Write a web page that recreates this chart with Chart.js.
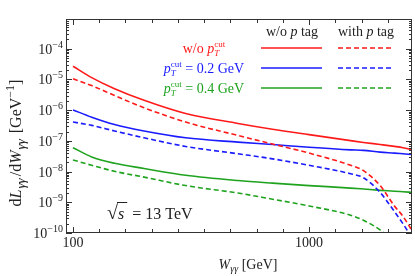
<!DOCTYPE html>
<html>
<head>
<meta charset="utf-8">
<script src="https://cdn.jsdelivr.net/npm/chart.js@4.4.1/dist/chart.umd.min.js"></script>
<style>
  html, body { margin: 0; padding: 0; background: #fff; }
  #wrap { width: 415px; height: 276px; }
</style>
</head>
<body>
<div id="wrap"><canvas id="lumiChart" width="415" height="276"></canvas></div>
<script>
// photon-photon luminosity, values
const W = [100, 120, 150, 200, 300, 500, 700, 1000, 1500, 1700, 2000, 2300, 2500, 2730];

const noCutNoTag   = [2.7e-5, 1.15e-5, 5.0e-6, 2.1e-6, 7.8e-7, 3.7e-7, 2.4e-7, 1.6e-7, 1.02e-7, 8.9e-8, 7.6e-8, 6.6e-8, 6.0e-8, 5.2e-8];
const noCutTag     = [1.05e-5, 6.3e-6, 3.0e-6, 1.2e-6, 4.1e-7, 1.5e-7, 7.9e-8, 4.0e-8, 1.6e-8, 1.07e-8, 3.5e-9, 7.6e-10, 3.5e-10, 1.2e-10];
const cut02NoTag   = [1.02e-6, 5.9e-7, 3.4e-7, 2.1e-7, 1.26e-7, 9.1e-8, 7.6e-8, 6.2e-8, 5.1e-8, 4.9e-8, 4.3e-8, 4.0e-8, 3.8e-8, 3.6e-8];
const cut02Tag     = [4.1e-7, 3.2e-7, 2.1e-7, 1.26e-7, 6.6e-8, 3.8e-8, 2.6e-8, 1.6e-8, 8.5e-9, 6.3e-9, 2.1e-9, 5.0e-10, 2.0e-10, 7e-11];
const cut04NoTag   = [6.0e-8, 3.0e-8, 1.86e-8, 1.26e-8, 7.6e-9, 5.1e-9, 4.2e-9, 3.5e-9, 2.9e-9, 2.7e-9, 2.45e-9, 2.3e-9, 2.2e-9, 2.1e-9];
const cut04Tag     = [2.4e-8, 1.6e-8, 1.02e-8, 6.6e-9, 3.5e-9, 2.0e-9, 1.26e-9, 7.6e-10, 3.8e-10, 2.6e-10, 1.26e-10, 5e-11, null, null];

const xTickValues = [100, 1000];
const xTickLabels = ['100', '1000'];
const yDecades = [-10, -9, -8, -7, -6, -5, -4];

const RED = '#ff1a1a', BLUE = '#1a1aff', GREEN = '#1fa31f';
const SERIF = '"Liberation Serif", "DejaVu Serif", serif';
const font = (size, italic) => (italic ? 'italic ' : '') + size + 'px ' + SERIF;

const toPoints = arr => W.map((w, i) => ({ x: w, y: arr[i] })).filter(p => p.y !== null);

function line(label, arr, color, dashed) {
  return {
    label: label,
    data: toPoints(arr),
    borderColor: color,
    borderWidth: 1.6,
    borderDash: dashed ? [5, 3] : [],
    pointRadius: 0,
    cubicInterpolationMode: 'monotone',
    fill: false
  };
}

// draw a run of text pieces (sub/superscripts, italics) starting at x
function drawRich(ctx, parts, x, y, align) {
  const widths = parts.map(p => {
    ctx.font = p.f;
    if (p.sup !== undefined) {
      return Math.max(ctx.measureText(p.sup).width, ctx.measureText(p.sub).width);
    }
    return ctx.measureText(p.t).width + (p.pad || 0);
  });
  const total = widths.reduce((a, b) => a + b, 0);
  let cx = align === 'right' ? x - total : align === 'center' ? x - total / 2 : x;
  parts.forEach((p, i) => {
    ctx.font = p.f;
    if (p.sup !== undefined) {
      ctx.fillText(p.sup, cx, y - 6);
      ctx.font = p.fsub || p.f;
      ctx.fillText(p.sub, cx, y + 3);
    } else {
      ctx.fillText(p.t, cx, y + (p.dy || 0));
    }
    cx += widths[i];
  });
  return total;
}

const framePlugin = {
  id: 'frame',
  afterDatasetsDraw(chart) {
    const ctx = chart.ctx, ca = chart.chartArea;
    const xs = chart.scales.x, ys = chart.scales.y;
    ctx.save();
    ctx.strokeStyle = '#333';
    ctx.lineWidth = 1;
    ctx.setLineDash([]);
    ctx.strokeRect(Math.round(ca.left) + 0.5, Math.round(ca.top) + 0.5,
      Math.round(ca.right - ca.left) - 1, Math.round(ca.bottom - ca.top) - 1);

    ctx.beginPath();
    // x ticks every ninth of a decade, inside on top and bottom
    for (let k = 0; k < 14; k++) {
      const v = Math.pow(10, 2 + k / 9);
      if (v > xs.max) break;
      const px = Math.round(xs.getPixelForValue(v)) + 0.5;
      const len = k % 9 === 0 ? 6 : 4;
      ctx.moveTo(px, ca.bottom); ctx.lineTo(px, ca.bottom - len);
      ctx.moveTo(px, ca.top); ctx.lineTo(px, ca.top + len);
    }
    // y ticks, decades and 2..9
    for (const e of yDecades.concat([-3])) {
      for (let m = 1; m <= 9; m++) {
        const v = m * Math.pow(10, e);
        if (v < ys.min * 0.999 || v > ys.max) continue;
        const py = Math.round(ys.getPixelForValue(v)) + 0.5;
        const len = m === 1 ? 6 : 3;
        ctx.moveTo(ca.left, py); ctx.lineTo(ca.left + len, py);
        ctx.moveTo(ca.right, py); ctx.lineTo(ca.right - len, py);
      }
    }
    ctx.stroke();

    ctx.fillStyle = '#222';
    ctx.textBaseline = 'alphabetic';
    // x tick labels
    xTickValues.forEach((v, i) => {
      drawRich(ctx, [{ t: xTickLabels[i], f: font(14) }], xs.getPixelForValue(v), 247, 'center');
    });
    // y tick labels 10^-n
    yDecades.forEach(e => {
      const py = ys.getPixelForValue(Math.pow(10, e));
      drawRich(ctx, [
        { t: '10', f: font(14) },
        { t: '\u2212' + Math.abs(e), f: font(10), dy: -6 }
      ], 63, py + 5, 'right');
    });

    // axis titles
    drawRich(ctx, [
      { t: 'W', f: font(14, true) },
      { t: '\u03b3\u03b3', f: font(10, true), dy: 3 },
      { t: ' [GeV]', f: font(14) }
    ], 248, 269, 'center');

    ctx.save();
    ctx.translate(21, 143);
    ctx.rotate(-Math.PI / 2);
    drawRich(ctx, [
      { t: 'd', f: font(16) },
      { t: 'L', f: font(16, true), pad: 1 },
      { t: '\u03b3\u03b3', f: font(13, true), dy: 4, pad: 2 },
      { t: '/d', f: font(16) },
      { t: 'W', f: font(16, true), pad: 1 },
      { t: '\u03b3\u03b3', f: font(13, true), dy: 4, pad: 2 },
      { t: ' [GeV', f: font(16) },
      { t: '\u22121', f: font(12), dy: -7 },
      { t: ']', f: font(16) }
    ], 0, 0, 'center');
    ctx.restore();

    // legend headers
    drawRich(ctx, [{ t: 'w/o ', f: font(14) }, { t: 'p', f: font(14, true) }, { t: ' tag', f: font(14) }], 292, 36, 'center');
    drawRich(ctx, [{ t: 'with ', f: font(14) }, { t: 'p', f: font(14, true) }, { t: ' tag', f: font(14) }], 366, 36, 'center');

    // legend rows
    const rows = [
      { color: RED, y: 48, text: [{ t: 'w/o ', f: font(14) }, { t: 'p', f: font(14, true) }, { sup: 'cut', sub: 'T', f: font(9), fsub: font(9, true) }] },
      { color: BLUE, y: 68, text: [{ t: 'p', f: font(14, true) }, { sup: 'cut', sub: 'T', f: font(9), fsub: font(9, true) }, { t: ' = 0.2 GeV', f: font(14) }] },
      { color: GREEN, y: 88, text: [{ t: 'p', f: font(14, true) }, { sup: 'cut', sub: 'T', f: font(9), fsub: font(9, true) }, { t: ' = 0.4 GeV', f: font(14) }] }
    ];
    ctx.lineWidth = 1.6;
    rows.forEach(r => {
      ctx.fillStyle = r.color;
      drawRich(ctx, r.text, 204, r.y + 5, 'center');
      ctx.strokeStyle = r.color;
      ctx.setLineDash([]);
      ctx.beginPath(); ctx.moveTo(261, r.y); ctx.lineTo(322, r.y); ctx.stroke();
      ctx.setLineDash([5, 3]);
      ctx.beginPath(); ctx.moveTo(338, r.y); ctx.lineTo(393, r.y); ctx.stroke();
    });
    ctx.setLineDash([]);

    // sqrt(s) = 13 TeV
    ctx.fillStyle = '#222';
    ctx.font = font(20);
    ctx.fillText('\u221a', 107, 219);
    const rw = ctx.measureText('\u221a').width;
    ctx.font = font(16, true);
    ctx.fillText('s', 107 + rw, 219);
    const sw = ctx.measureText('s').width;
    ctx.strokeStyle = '#222';
    ctx.lineWidth = 1;
    ctx.beginPath(); ctx.moveTo(107 + rw - 1, 202.5); ctx.lineTo(107 + rw + sw + 3, 202.5); ctx.stroke();
    ctx.font = font(16);
    ctx.fillText(' = 13 TeV', 107 + rw + sw + 4, 219);
    ctx.restore();
  }
};

new Chart(document.getElementById('lumiChart'), {
  type: 'line',
  data: {
    datasets: [
      line('w/o pT cut, no tag', noCutNoTag, RED, false),
      line('w/o pT cut, p tag', noCutTag, RED, true),
      line('pT cut 0.2 GeV, no tag', cut02NoTag, BLUE, false),
      line('pT cut 0.2 GeV, p tag', cut02Tag, BLUE, true),
      line('pT cut 0.4 GeV, no tag', cut04NoTag, GREEN, false),
      line('pT cut 0.4 GeV, p tag', cut04Tag, GREEN, true)
    ]
  },
  options: {
    responsive: false,
    animation: false,
    devicePixelRatio: 1,
    layout: { padding: { top: 19, right: 3, left: 0, bottom: 0 } },
    plugins: { legend: { display: false }, tooltip: { enabled: false } },
    scales: {
      x: {
        type: 'logarithmic', min: 93.4, max: 2730,
        grid: { display: false }, border: { display: false },
        ticks: { display: false },
        afterFit: s => { s.height = 43; }
      },
      y: {
        type: 'logarithmic', min: 1e-10, max: 9.3e-4,
        grid: { display: false }, border: { display: false },
        ticks: { display: false },
        afterFit: s => { s.width = 66; }
      }
    }
  },
  plugins: [framePlugin]
});
</script>
</body>
</html>
